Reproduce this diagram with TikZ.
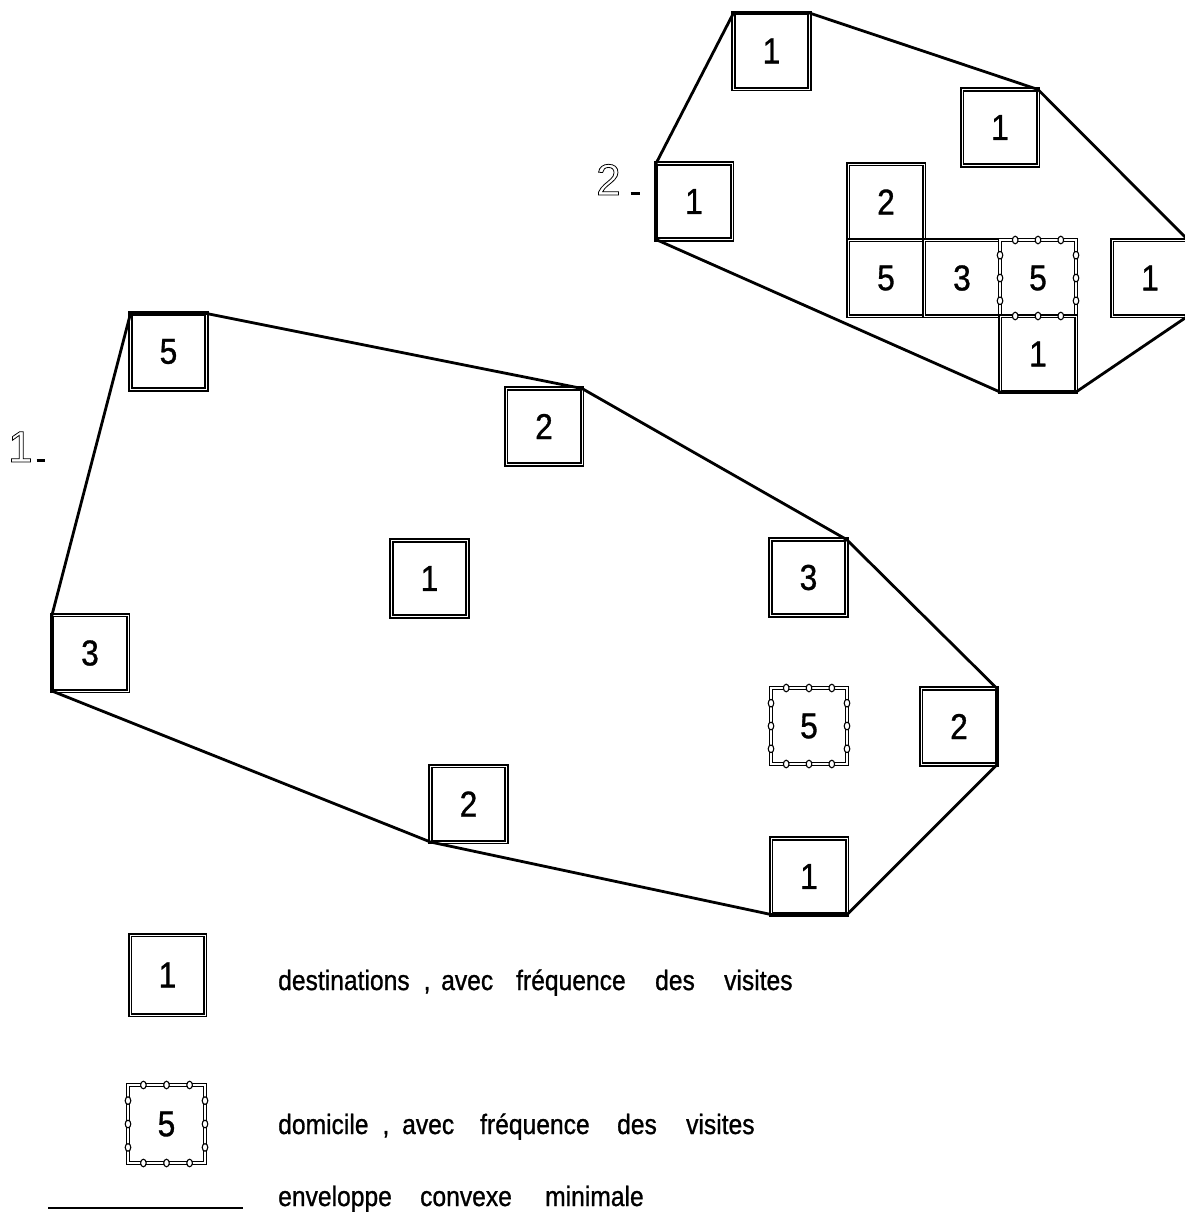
\documentclass[tikz,border=0pt]{standalone}
\usepackage{fontspec}
\setmainfont{Liberation Sans}
\newfontfamily\condfont[FakeStretch=0.88, FakeBold=0.9]{Liberation Sans}
\newfontfamily\hollowfont[FakeBold=1.8]{Liberation Sans}
\usetikzlibrary{calc}
\newcommand{\hollowtxt}[1]{{\hollowfont\special{pdf:literal direct 1 1 1 rg 0 0 0 RG}#1\special{pdf:literal direct 0 0 0 rg}}}
\newcommand{\domovals}[1]{%
  \foreach \f in {0.2,0.5,0.8}{
    \filldraw[ovalmark] ($(#1.north west)!\f!(#1.north east)$) ellipse [x radius=2.8pt, y radius=3.8pt];
    \filldraw[ovalmark] ($(#1.south west)!\f!(#1.south east)$) ellipse [x radius=2.8pt, y radius=3.8pt];
    \filldraw[ovalmark] ($(#1.north west)!\f!(#1.south west)$) ellipse [x radius=2.8pt, y radius=3.8pt];
    \filldraw[ovalmark] ($(#1.north east)!\f!(#1.south east)$) ellipse [x radius=2.8pt, y radius=3.8pt];
  }}
\tikzset{
  destbox/.style={draw=black, double=white, line width=1.8pt, double distance=1pt,
    minimum width=76pt, minimum height=76pt, inner sep=0pt, outer sep=0pt,
    font=\condfont\fontsize{36}{36}\selectfont},
  dombox/.style={draw=black, double=white, line width=1pt, double distance=1.6pt,
    minimum width=76pt, minimum height=76pt, inner sep=0pt, outer sep=0pt,
    font=\condfont\fontsize{36}{36}\selectfont},
  ovalmark/.style={draw=black, fill=white, line width=1.1pt},
  hull/.style={draw=black, line width=2.8pt, line join=round},
  legtext/.style={anchor=base west, inner sep=0pt, font=\condfont\fontsize{28}{28}\selectfont},
  grouplabel/.style={anchor=base west, inner sep=0pt, font=\fontsize{44}{44}\selectfont}
}
\begin{document}
\begin{tikzpicture}[x=1pt, y=-1pt]
\useasboundingbox (0,0) rectangle (1185,1221);
\fill[white] (0,0) rectangle (1185,1221);

% ---------- group 1 ----------
\node[destbox] (a5)  at (168.5,351.5) {5};
\node[destbox] (a2)  at (544,426.5) {2};
\node[destbox] (a1)  at (429.5,578.5) {1};
\node[destbox] (a3r) at (808.5,577.5) {3};
\node[destbox] (a3l) at (90,653) {3};
\node[dombox]  (ad)  at (809,726) {5};
\node[destbox] (a2r) at (959,726.5) {2};
\node[destbox] (a2b) at (468.5,804) {2};
\node[destbox] (a1b) at (809,876.5) {1};
\domovals{ad}

\draw[hull] (a5.north west) -- (a5.north east) -- (a2.north east) -- (a3r.north east)
  -- (a2r.north east) -- (a2r.south east) -- (a1b.south east) -- (a1b.south west)
  -- (a2b.south west) -- (a3l.south west) -- (a3l.north west) -- cycle;

\node[grouplabel] (lab1) at (8,462) {\hollowtxt{1}\kern4pt\rule{8pt}{2.8pt}};

% ---------- group 2 ----------
\node[destbox] (b1t) at (771.5,51) {1};
\node[destbox] (b1r) at (1000,127.5) {1};
\node[destbox] (b1l) at (694,201.5) {1};
\node[destbox] (b2)  at (886,202) {2};
\node[destbox] (b5)  at (886,278) {5};
\node[destbox] (b3)  at (962,278) {3};
\node[dombox]  (bd)  at (1038,278) {5};
\node[destbox] (b1f) at (1150,278) {1};
\node[destbox] (b1b) at (1038,354) {1};
\domovals{bd}

\draw[hull] (b1t.north west) -- (b1t.north east) -- (b1r.north east) -- (b1f.north east)
  -- (b1f.south east) -- (b1b.south east) -- (b1b.south west) -- (b1l.south west)
  -- (b1l.north west) -- cycle;

\node[grouplabel] (lab2) at (596,195) {\hollowtxt{2}\kern10pt\rule{9pt}{2.8pt}};

% ---------- legend ----------
\node[destbox, minimum width=75pt, minimum height=80pt] (k1) at (167.5,975) {1};
\node[legtext] (t1) at (278,990) {\makebox[163pt][l]{destinations\hspace{14pt},}\makebox[75pt][l]{avec}\makebox[139pt][l]{fréquence}\makebox[69pt][l]{des}visites};

\node[dombox, minimum width=77pt, minimum height=78pt] (k2) at (166.5,1124) {5};
\domovals{k2}
\node[legtext] (t2) at (278,1134) {\makebox[124pt][l]{domicile\hspace{14pt},}\makebox[78pt][l]{avec}\makebox[137pt][l]{fréquence}\makebox[69pt][l]{des}visites};

\coordinate (l1) at (48,1208);
\coordinate (l2) at (243,1208);
\draw[line width=2pt] (l1) -- (l2);
\node[legtext] (t3) at (278,1206) {\makebox[142pt][l]{enveloppe}\makebox[125pt][l]{convexe}minimale};
\end{tikzpicture}
\end{document}
